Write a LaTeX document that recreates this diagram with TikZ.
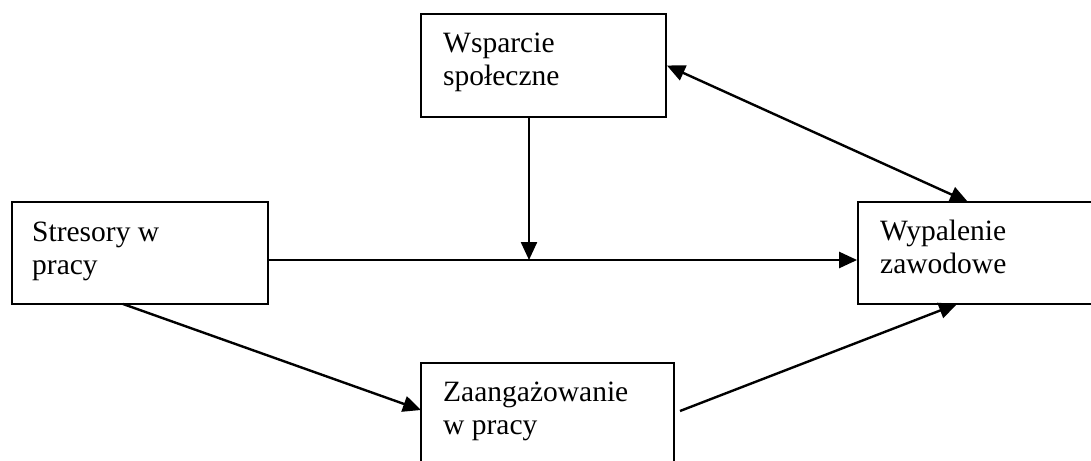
\documentclass[tikz,border=0pt]{standalone}
\usepackage{fontspec}
\setmainfont{Liberation Serif}
\usetikzlibrary{arrows.meta,calc}
\begin{document}
\begin{tikzpicture}[x=1pt,y=-1pt,
  box/.style={draw, line width=1.8pt, rectangle, inner sep=0pt},
  lbl/.style={anchor=base west, inner sep=0pt, align=left, font=\fontsize{29.5}{33}\selectfont},
  conn/.style={line width=2.4pt},
  arr/.style={conn, -{Triangle[length=18pt,width=16pt]}},
  darr/.style={conn, {Triangle[length=18pt,width=16pt]}-{Triangle[length=18pt,width=16pt]}}]
\clip (0,0) rectangle (1091,460);
\useasboundingbox (0,0) rectangle (1091,460);
\node[box, minimum width=245pt, minimum height=103pt] (ws) at (543.5,65.5) {};
\node[box, minimum width=256pt, minimum height=102pt] (st) at (140,253) {};
\node[box, minimum width=242pt, minimum height=102pt] (wy) at (979,253) {};
\node[box, minimum width=253pt, minimum height=112pt] (za) at (547.5,419) {};
\node[lbl] (tws) at (443,85) {Wsparcie\\społeczne};
\node[lbl] (tst) at (32,274) {Stresory w\\pracy};
\node[lbl] (twy) at (880,273) {Wypalenie\\zawodowe};
\node[lbl] (tza) at (443,434) {Zaangażowanie\\w pracy};
\coordinate (j) at (529,260);
\coordinate (wytop) at (968,202);
\coordinate (wybot) at (957,304);
\coordinate (stbot) at (123,304);
\coordinate (zain) at (421,410);
\coordinate (zaout) at (680,411);
\draw[conn] (st.east |- j) -- (j);
\draw[arr] (j) -- (wy.west |- j);
\draw[arr] (ws.south -| j) -- (j);
\draw[darr] (ws.east) -- (wytop);
\draw[arr] (stbot) -- (zain);
\draw[arr] (zaout) -- (wybot);
\end{tikzpicture}
\end{document}
